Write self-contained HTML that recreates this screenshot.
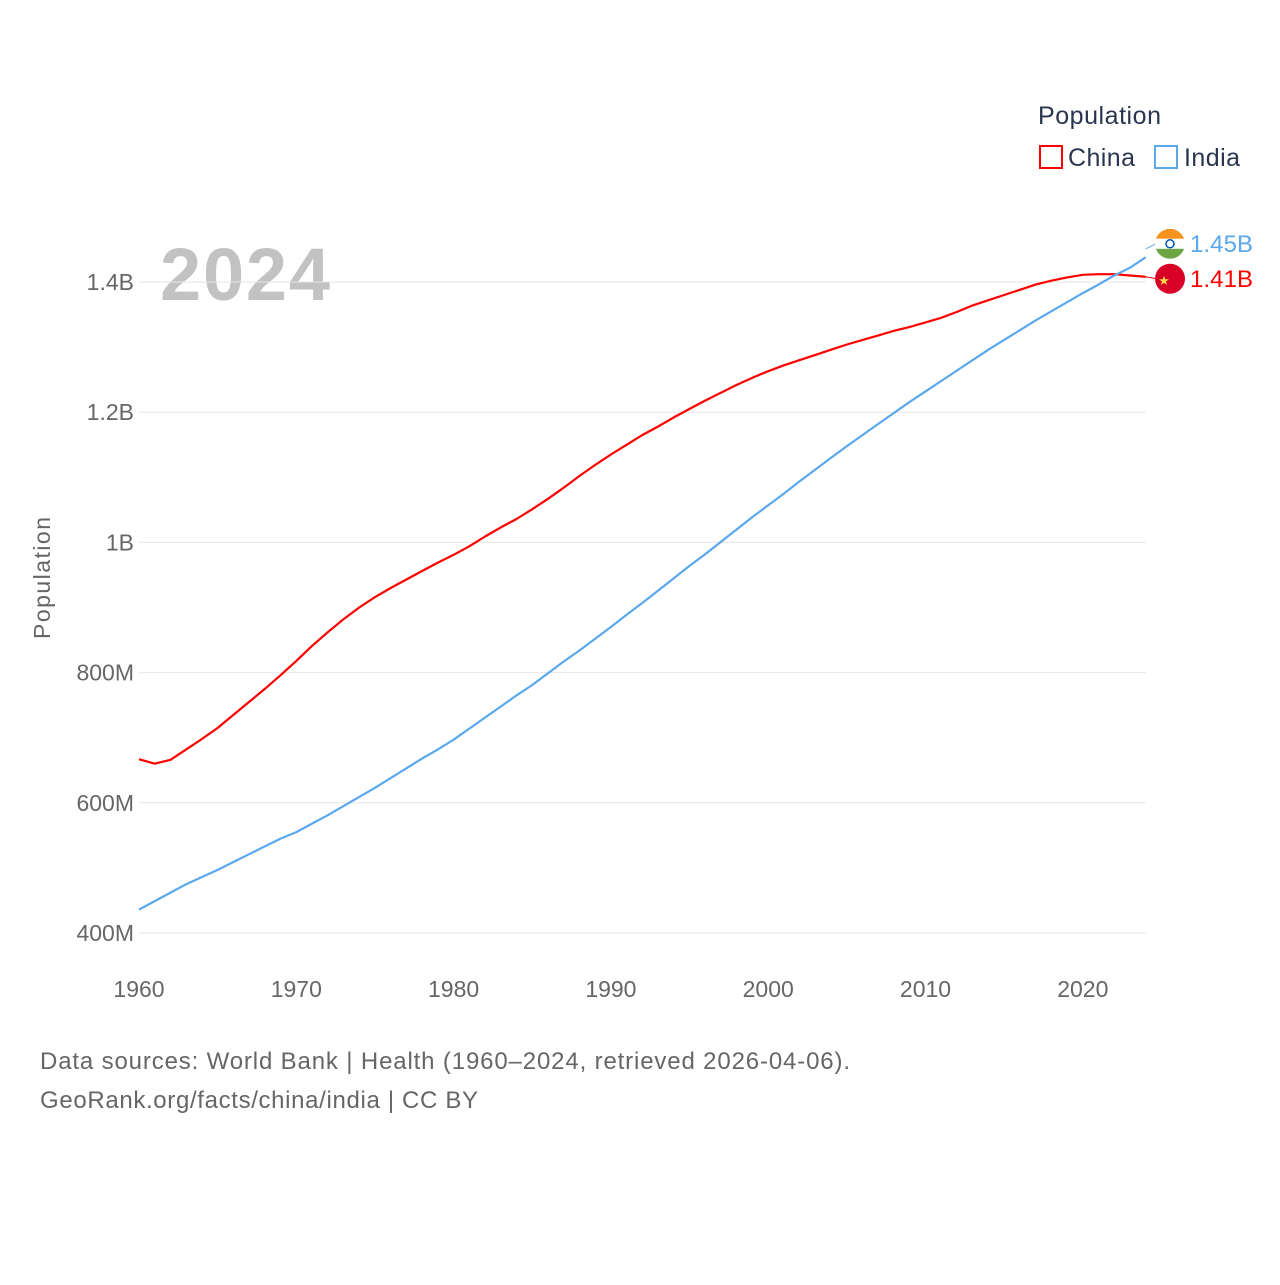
<!DOCTYPE html>
<html><head><meta charset="utf-8"><style>
body{margin:0;background:#fff;font-family:"Liberation Sans",sans-serif}
svg text{font-family:"Liberation Sans",sans-serif}
</style></head><body>
<svg id="chart" width="1280" height="1280" viewBox="0 0 1280 1280">
<text x="1038" y="124" font-size="25" fill="#2a3550" textLength="123">Population</text>
<rect x="1040" y="146" width="22" height="22" fill="none" stroke="#f00" stroke-width="2"/>
<text x="1068" y="166" font-size="25" fill="#2a3550" textLength="67">China</text>
<rect x="1155" y="146" width="22" height="22" fill="none" stroke="#5aa8ee" stroke-width="2"/>
<text x="1184" y="166" font-size="25" fill="#2a3550" textLength="56">India</text>
<text x="160" y="300" font-size="74" font-weight="bold" fill="#c2c2c2" textLength="170">2024</text>
<text transform="translate(50,578) rotate(-90)" text-anchor="middle" font-size="23" fill="#666" textLength="122">Population</text>
<g id="grid"></g><g id="lines"></g>
<text x="40" y="1069" font-size="24" fill="#666" textLength="810">Data sources: World Bank | Health (1960–2024, retrieved 2026-04-06).</text>
<text x="40" y="1108" font-size="24" fill="#666" textLength="438">GeoRank.org/facts/china/india | CC BY</text>
</svg>
<script>
const years=[];for(let y=1960;y<=2024;y++)years.push(y);
const china=[667,660,666,682,698,715,735,755,775,796,818,841,862,882,900,916,930,943,956,969,981,994,1009,1023,1036,1051,1067,1084,1102,1119,1135,1150,1165,1178,1192,1205,1218,1230,1242,1253,1263,1272,1280,1288,1296,1304,1311,1318,1325,1331,1338,1345,1354,1364,1372,1380,1388,1396,1402,1407,1411,1412,1412,1410,1408];
const india=[436,449,462,475,486,497,509,521,533,545,555,568,581,595,609,623,638,653,668,682,697,714,731,748,765,781,799,817,834,852,870,889,907,926,945,964,982,1001,1020,1039,1057,1075,1094,1112,1130,1148,1165,1182,1199,1216,1232,1248,1264,1280,1296,1311,1326,1341,1355,1369,1383,1396,1410,1422,1438,1451];
const yTicks=[400,600,800,1000,1200,1400];
const yTickLabels=["400M","600M","800M","1B","1.2B","1.4B"];
const xTicks=[1960,1970,1980,1990,2000,2010,2020];
const NS="http://www.w3.org/2000/svg";
const xs=y=>139+(y-1960)*15.73;
const ys=v=>933-(v-400)*0.651;
const grid=document.getElementById('grid'),lines=document.getElementById('lines');
function mk(tag,attrs,parent){const e=document.createElementNS(NS,tag);for(const k in attrs)e.setAttribute(k,attrs[k]);parent.appendChild(e);return e;}
yTicks.forEach((t,i)=>{
 const l=mk('line',{x1:139,x2:1146,y1:ys(t),y2:ys(t),stroke:'#e6e6e6'},grid);
 
 
 const tx=mk('text',{x:134,y:ys(t)+8,'text-anchor':'end','font-size':23,fill:'#666'},grid);tx.textContent=yTickLabels[i];
 
 
});
xTicks.forEach(t=>{
 const tx=mk('text',{x:xs(t),y:997,'text-anchor':'middle','font-size':23,fill:'#666'},grid);tx.textContent=t;
 
 
});
function series(vals,color,name){
 const d=vals.map((v,i)=>(i?'L':'M')+xs(years[i]).toFixed(1)+','+ys(v).toFixed(1)).join('');
 const p=mk('path',{d:d,fill:'none',stroke:color,'stroke-width':2.2,'stroke-linejoin':'round'},lines);
 
 
}
series(china,'#f00','china');series(india,'#5aa8ee','india');
const lc=china[china.length-1],li=india[india.length-1];
const xe=xs(2024);
const iy=ys(li),cy=ys(lc);
const ly1=iy-5,ly2=cy+2;
mk('line',{x1:xe,y1:iy,x2:1156,y2:ly1,stroke:'#5aa8ee'},lines);
mk('line',{x1:xe,y1:cy,x2:1156,y2:ly2,stroke:'#f00'},lines);
const gi=mk('g',{},lines);
mk('clipPath',{id:'ci'},gi);mk('circle',{cx:1170,cy:ly1,r:15},gi.lastChild);
const gg=mk('g',{'clip-path':'url(#ci)'},gi);
mk('rect',{x:1155,y:ly1-15,width:30,height:10,fill:'#f7931e'},gg);
mk('rect',{x:1155,y:ly1-5,width:30,height:10,fill:'#fff'},gg);
mk('rect',{x:1155,y:ly1+5,width:30,height:10,fill:'#6da544'},gg);
mk('circle',{cx:1170,cy:ly1,r:4,fill:'none',stroke:'#0052b4','stroke-width':1.5},gi);
const gc=mk('g',{},lines);
mk('circle',{cx:1170,cy:ly2,r:15,fill:'#d80027'},gc);
const st=mk('text',{x:1164,y:ly2+6,'font-size':13,fill:'#ffda44','text-anchor':'middle'},gc);st.textContent='★';
const t1=mk('text',{x:1190,y:ly1+8,'font-size':24,fill:'#5aa8ee',textLength:63},lines);t1.textContent=(li/1000).toFixed(2)+'B';


const t2=mk('text',{x:1190,y:ly2+8,'font-size':24,fill:'#f00',textLength:63},lines);t2.textContent=(lc/1000).toFixed(2)+'B';


</script>
</body></html>
